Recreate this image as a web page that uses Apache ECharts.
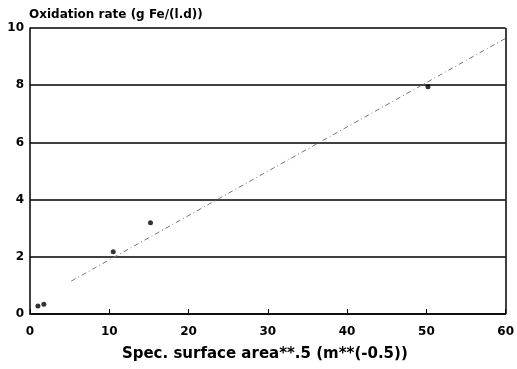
<!DOCTYPE html>
<html><head><meta charset="utf-8">
<script src="https://cdn.jsdelivr.net/npm/echarts@6/dist/echarts.min.js"></script>
<style>html,body{margin:0;padding:0;background:#fff}#c{width:517px;height:369px}</style>
</head><body><div id="c"></div>
<script>
var pointsX = [1.0, 1.75, 10.5, 15.2, 50.2];
var pointsY = [0.28, 0.34, 2.18, 3.19, 7.95];
var fitX = [5.2, 60];
var fitY = [1.15, 9.64];
var xTicks = [0, 10, 20, 30, 40, 50, 60];
var yTicks = [0, 2, 4, 6, 8, 10];

var chart = echarts.init(document.getElementById('c'));
var font = 'DejaVu Sans, sans-serif';
chart.setOption({
  animation: false,
  backgroundColor: '#fff',
  grid: {left: 30, right: 8, top: 28, bottom: 55, show: false},
  title: {
    text: 'Oxidation rate (g Fe/(l.d))', left: 24, top: 4,
    textStyle: {fontFamily: font, fontWeight: 'bold', fontSize: 12, color: '#000'}
  },
  xAxis: {
    type: 'value', min: 0, max: 60, interval: 10,
    name: 'Spec. surface area**.5 (m**(-0.5))', nameLocation: 'middle', nameGap: 33,
    nameTextStyle: {fontFamily: font, fontWeight: 'bold', fontSize: 15, color: '#000', padding: [0, 6, 0, 0]},
    axisLine: {show: true, lineStyle: {color: '#000', width: 1.5}},
    axisTick: {show: true, inside: true, length: 5, lineStyle: {color: '#000'}},
    axisLabel: {fontFamily: font, fontWeight: 'bold', fontSize: 12, color: '#000', margin: 12},
    splitLine: {show: false}
  },
  yAxis: {
    type: 'value', min: 0, max: 10, interval: 2,
    axisLine: {show: true, lineStyle: {color: '#000', width: 1.5}},
    axisTick: {show: false},
    axisLabel: {fontFamily: font, fontWeight: 'bold', fontSize: 12, color: '#000', margin: 6},
    splitLine: {show: true, lineStyle: {color: '#000', width: 1.5}}
  },
  series: [
    {
      type: 'line', data: fitX.map(function (x, i) { return [x, fitY[i]]; }),
      showSymbol: false, lineStyle: {color: '#777', width: 1, type: [5, 3, 1, 3]}
    },
    {
      type: 'scatter', data: pointsX.map(function (x, i) { return [x, pointsY[i]]; }),
      symbol: 'circle', symbolSize: 5, itemStyle: {color: '#000'}
    },
    {
      type: 'line', data: [], markLine: {
        silent: true, symbol: 'none', label: {show: false},
        lineStyle: {color: '#000', width: 1.5, type: 'solid'},
        data: [[{coord: [60, 0]}, {coord: [60, 10]}]]
      }
    }
  ]
});
</script></body></html>
